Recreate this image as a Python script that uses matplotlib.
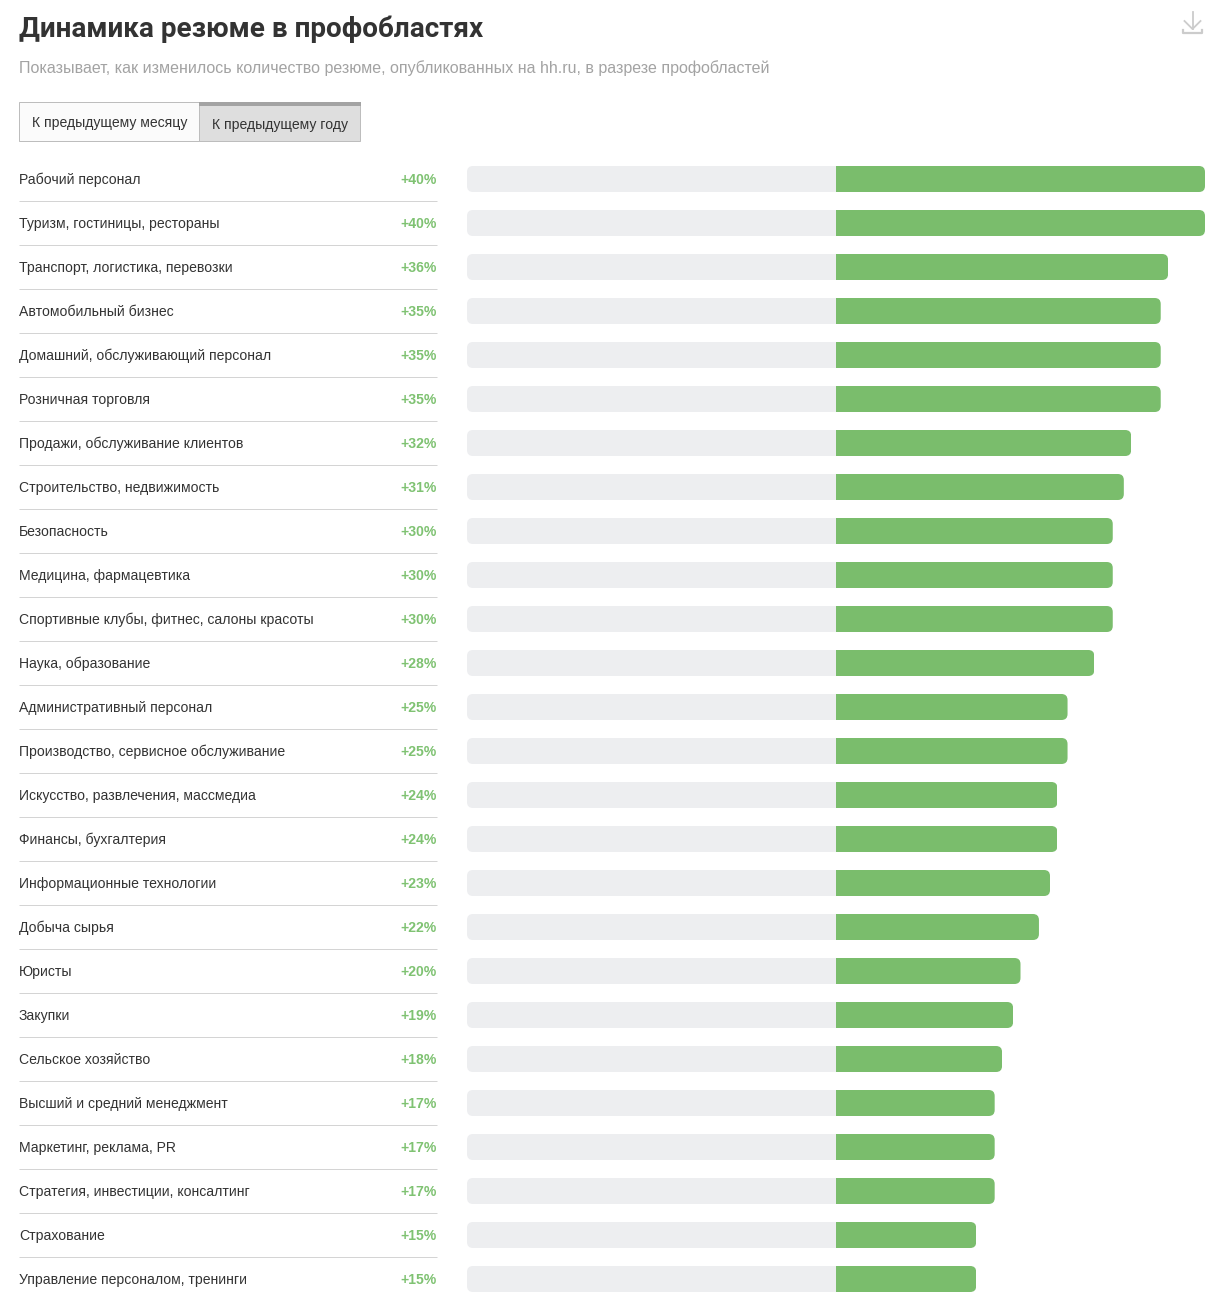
import matplotlib
matplotlib.use("Agg")
import matplotlib.pyplot as plt
from matplotlib.patches import FancyBboxPatch, Rectangle
from matplotlib.transforms import blended_transform_factory

plt.rcParams['font.family'] = ['Liberation Sans', 'DejaVu Sans']

categories = ["Рабочий персонал", "Туризм, гостиницы, рестораны", "Транспорт, логистика, перевозки",
              "Автомобильный бизнес", "Домашний, обслуживающий персонал", "Розничная торговля",
              "Продажи, обслуживание клиентов", "Строительство, недвижимость", "Безопасность",
              "Медицина, фармацевтика", "Спортивные клубы, фитнес, салоны красоты", "Наука, образование",
              "Административный персонал", "Производство, сервисное обслуживание",
              "Искусство, развлечения, массмедиа", "Финансы, бухгалтерия", "Информационные технологии",
              "Добыча сырья", "Юристы", "Закупки", "Сельское хозяйство", "Высший и средний менеджмент",
              "Маркетинг, реклама, PR", "Стратегия, инвестиции, консалтинг", "Страхование",
              "Управление персоналом, тренинги"]
pct_labels = [40, 40, 36, 35, 35, 35, 32, 31, 30, 30, 30, 28, 25, 25, 24, 24, 23, 22, 20, 19, 18, 17, 17, 17, 15, 15]
values = [40, 40, 36, 35.2, 35.2, 35.2, 32, 31.2, 30, 30, 30, 28, 25.1, 25.1, 24, 24, 23.2, 22, 20, 19.2, 18,
          17.2, 17.2, 17.2, 15.2, 15.2]
scale_max = 40

title = "Динамика резюме в профобластях"
subtitle = "Показывает, как изменилось количество резюме, опубликованных на hh.ru, в разрезе профобластей"
tab_labels = ["К предыдущему месяцу", "К предыдущему году"]

GREEN = "#7abd6c"
TRACK = "#edeef0"
DARK = "#333333"
PX = 0.72  # one pixel as a linewidth at dpi 100

fig = plt.figure(figsize=(12.24, 13.08), dpi=100)

# overlay in pixel coords for the page furniture
bg = fig.add_axes([0, 0, 1, 1])
bg.set_xlim(0, 1224)
bg.set_ylim(1308, 0)
bg.axis("off")

bg.text(19, 29, title, fontsize=20.1, fontweight="bold", family=["Roboto", "DejaVu Sans"], color="#333333",
        va="center", ha="left")
bg.text(19, 68.5, subtitle, fontsize=11.52, color="#a3a3a3", va="center", ha="left")

# tabs
bg.add_patch(Rectangle((19, 102), 180, 39, fc="#fbfbfb", ec="#bdbdbd", lw=PX))
bg.add_patch(Rectangle((199, 102), 161, 39, fc="#dedede", ec="#bdbdbd", lw=PX))
bg.add_patch(Rectangle((199, 102), 162, 4, fc="#a3a3a3", ec="none"))
bg.text(32, 127, tab_labels[0], fontsize=10.05, color=DARK, va="baseline", ha="left")
bg.text(212, 129, tab_labels[1], fontsize=10.05, color=DARK, va="baseline", ha="left")

# download icon
icon = "#cccccc"
bg.plot([1192.5, 1192.5], [12, 29], color=icon, lw=1.3)
bg.plot([1184.5, 1192.5, 1200.5], [21, 29, 21], color=icon, lw=1.3)
bg.plot([1183, 1183, 1202, 1202], [30, 33, 33, 30], color=icon, lw=1.6)

# bars
ax = fig.add_axes([467 / 1224, 1 - 1301 / 1308, 738 / 1224, 1144 / 1308])
ax.set_xlim(-scale_max, scale_max)
ax.set_ylim(len(categories) - 0.5, -0.5)
ax.axis("off")

bar_h = 26 / 44
radius = 6 / (738 / (2 * scale_max))
aspect = (6 / 44) / radius


def rounded(x0, x1, y):
    return FancyBboxPatch((x0, y - bar_h / 2), x1 - x0, bar_h, boxstyle=f"round,pad=0,rounding_size={radius}",
                          mutation_aspect=aspect, transform=ax.transData, fc="none", ec="none")


rows = list(range(len(categories)))
tracks = ax.barh(rows, [scale_max] * len(rows), left=-scale_max, height=bar_h, color=TRACK, linewidth=0)
greens = ax.barh(rows, values, left=0, height=bar_h, color=GREEN, linewidth=0)
for i in rows:
    tracks[i].set_clip_path(rounded(-scale_max, 3, i))
    greens[i].set_clip_path(rounded(-3, values[i], i))

# labels left of the bars
lab = blended_transform_factory(bg.transData, ax.transData)
base = 5 / 44
for i in rows:
    ax.text(19, i + base, categories[i], transform=lab, fontsize=10.05, color=DARK, va="baseline", ha="left", clip_on=False)
    ax.text(437, i + base, f"+{pct_labels[i]}%", transform=lab, fontsize=10.05, fontweight="bold", color="#7fc272",
            va="baseline", ha="right", clip_on=False)
    if i < len(rows) - 1:
        ax.plot([19, 437], [i + 0.5, i + 0.5], transform=lab, color="#d4d4d4", lw=PX, solid_capstyle="butt", clip_on=False)

fig.savefig("out.png", dpi=100, facecolor="white")
